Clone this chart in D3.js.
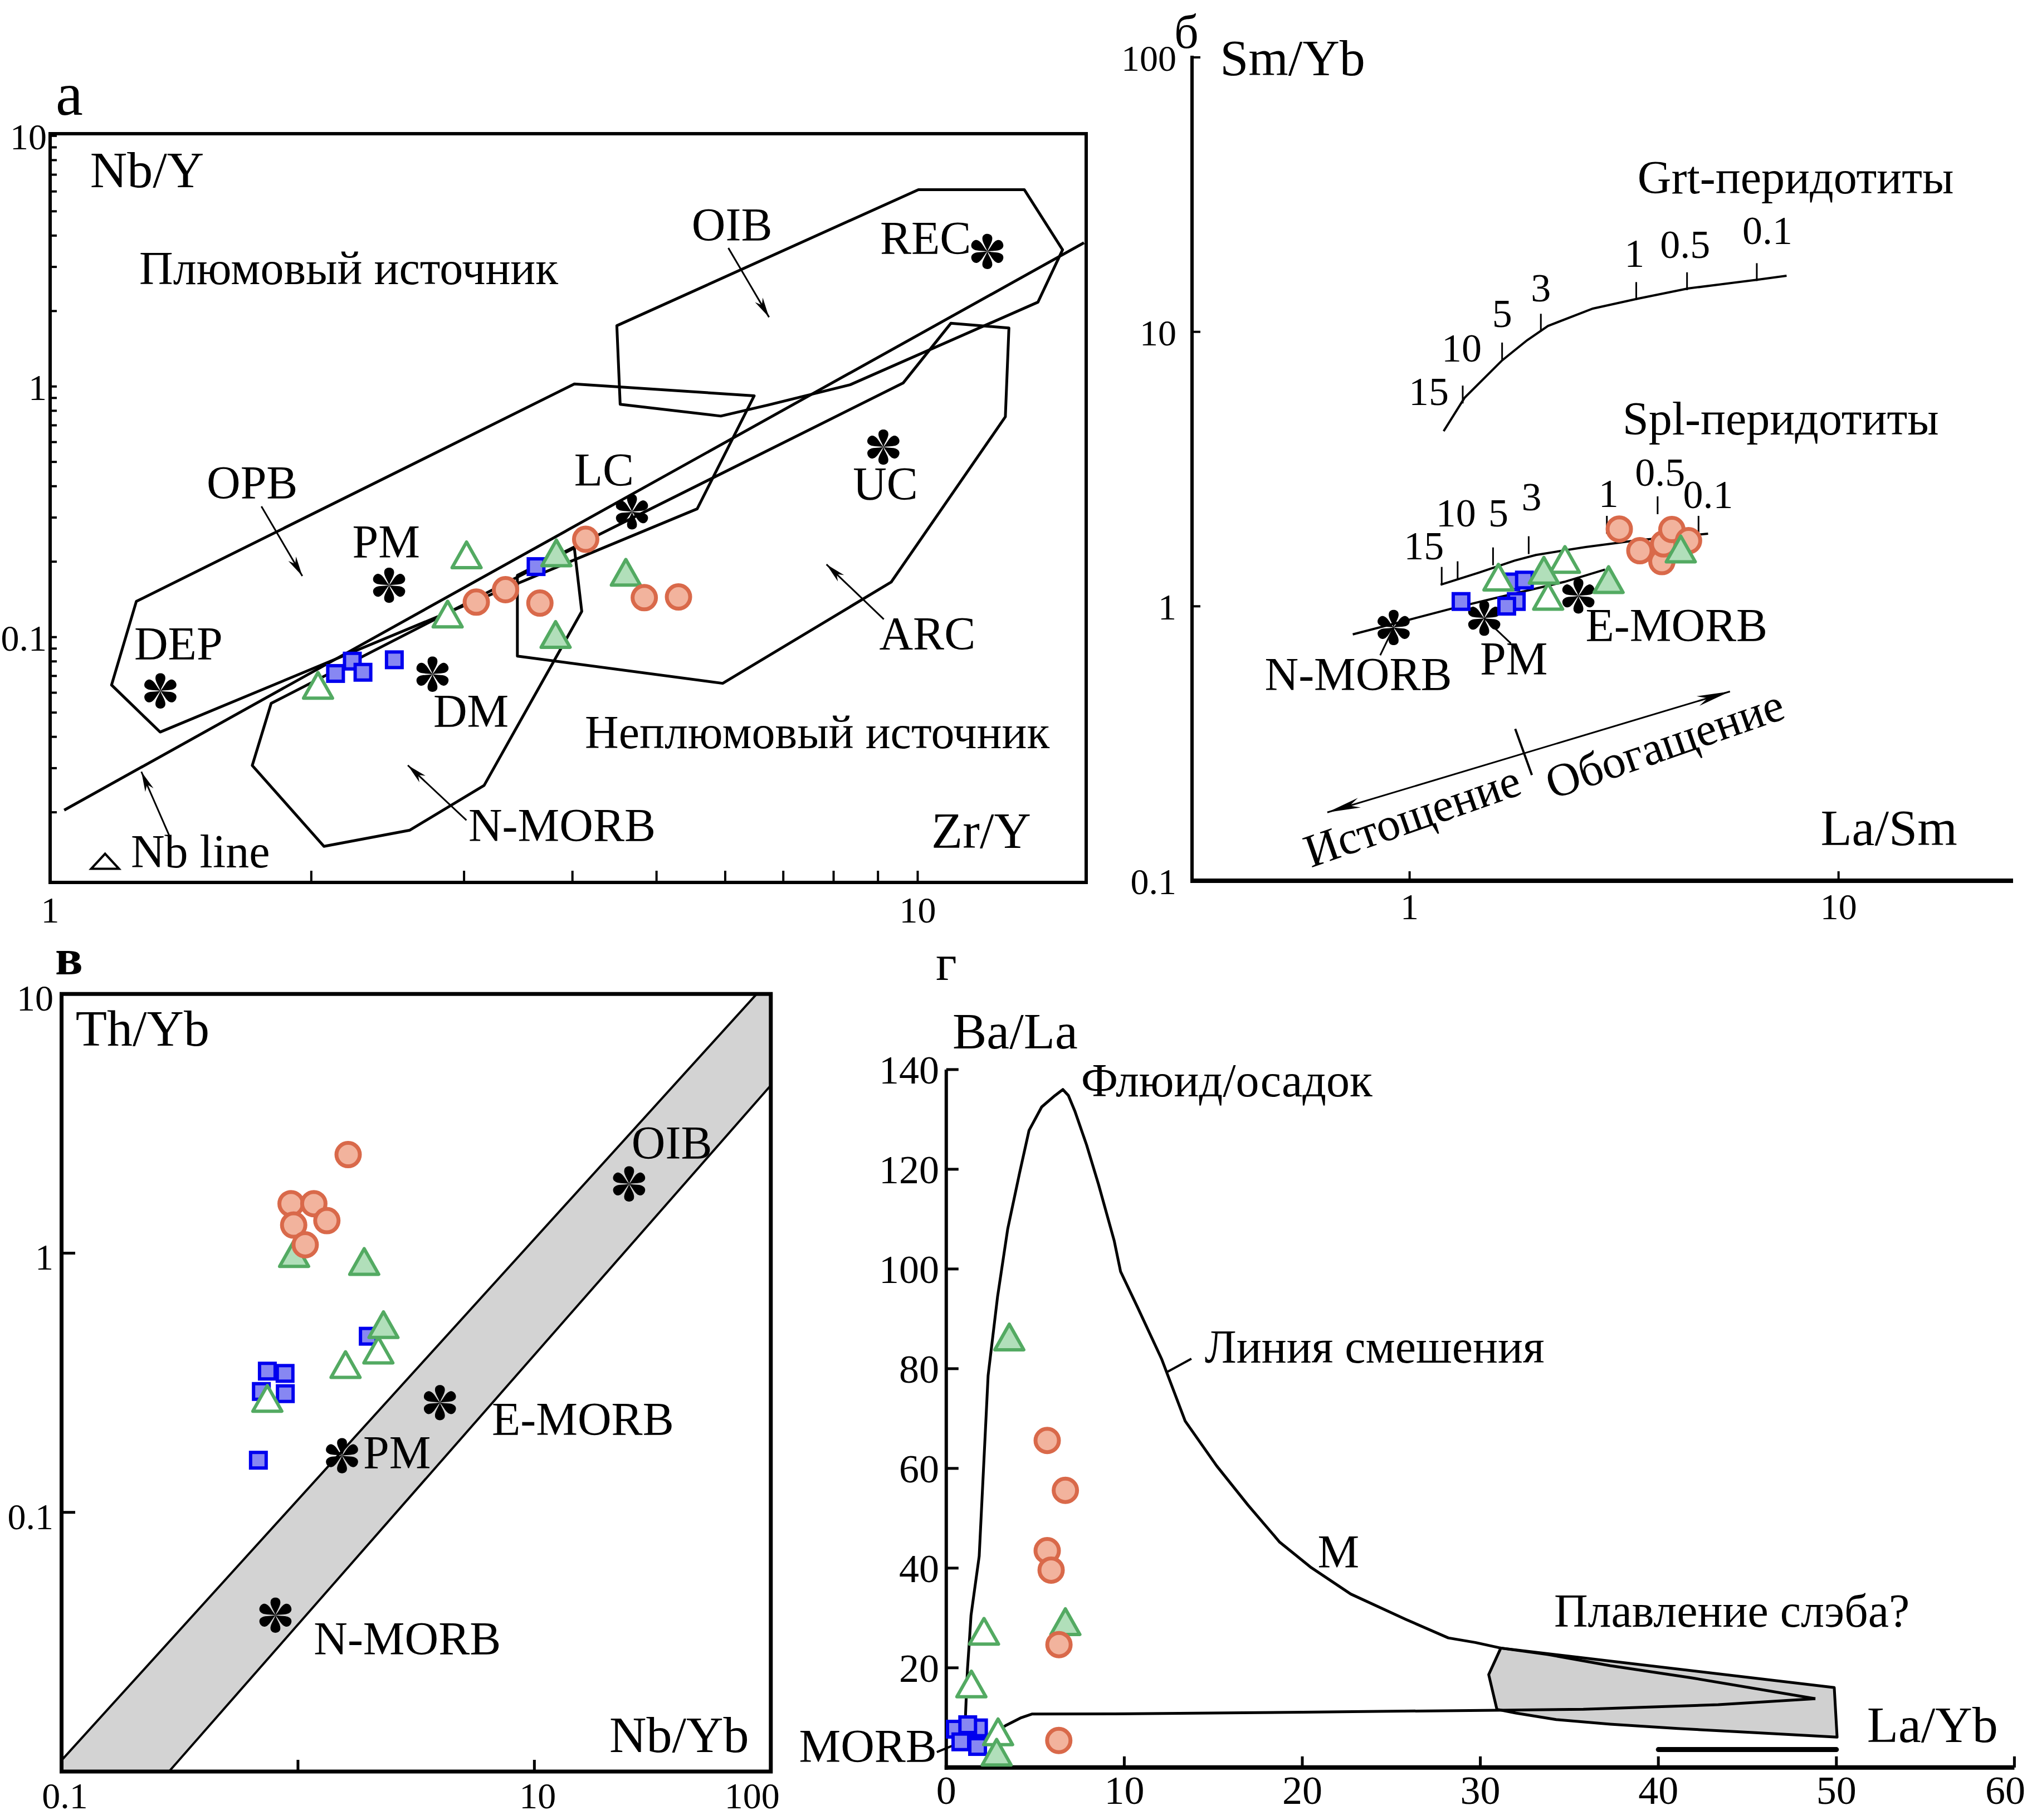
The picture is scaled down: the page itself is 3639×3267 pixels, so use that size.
<!DOCTYPE html>
<meta charset="utf-8">
<script src="https://d3js.org/d3.v7.min.js"></script>
<style>
  body { margin: 0; background: #fff; }
  text { font-family: "Liberation Serif", "Times New Roman", serif; fill: #000; }
</style>
<body>
<div id="chart"></div>
<script>

// ---------- panel а : Nb/Y vs Zr/Y ----------
var aSquares   = [[2.133,0.0716],[2.230,0.0802],[2.294,0.0724],[2.493,0.0812],[3.632,0.1911]];
var aTriOpen   = [[2.036,0.0617],[3.020,0.2047],[2.872,0.1188]];
var aTriFilled = [[3.833,0.2085],[3.825,0.0985],[4.609,0.1744]];
var aCircles   = [[3.099,0.1379],[3.349,0.1546],[3.669,0.1367],[4.143,0.2457],[4.840,0.1437],[5.30,0.1446]];
var aRefPoints = [["DEP",1.340,0.0610],["PM",2.459,0.161],["DM",2.759,0.0711],["LC",4.685,0.3161],["UC",9.13,0.573],["REC",12.03,3.458]];
var aFieldOIB  = [[4.50,1.748],[10.02,6.10],[13.27,6.10],[14.69,3.51],[13.76,2.17],[8.36,1.016],[6.73,0.844],[5.93,0.762],[4.54,0.849]];
var aFieldOPB  = [[1.177,0.0644],[1.257,0.1388],[4.02,1.023],[6.48,0.918],[5.57,0.325],[1.339,0.0418]];
var aFieldNMORB= [[1.710,0.03075],[1.798,0.0544],[4.02,0.2269],[4.10,0.1266],[3.164,0.0256],[2.598,0.01697],[2.068,0.01463]];
var aFieldARC  = [[10.92,1.787],[12.74,1.711],[12.62,0.757],[9.32,0.1657],[5.96,0.0654],[3.456,0.0840],[3.456,0.1765],[9.62,1.032]];
var aNbLine    = [[1.038,0.0204],[15.55,3.745]];
var aArrows    = [[[6.05,3.57],[6.74,1.89]],[[9.14,0.1178],[7.85,0.195]],[[1.752,0.3322],[1.953,0.1752]],
                  [[3.019,0.0186],[2.584,0.0308]],[[1.373,0.01604],[1.274,0.02904]]];
var aLabels    = [["Плюмовый источник",1.267,2.555],["Неплюмовый источник",4.134,0.03612],["OIB",5.490,3.819],
                  ["REC",9.05,3.375],["LC",4.018,0.4010],["UC",8.42,0.3542],["ARC",9.03,0.0892],["OPB",1.515,0.3575],
                  ["PM",2.230,0.2070],["DEP",1.250,0.0812],["DM",2.765,0.0438],["N-MORB",3.035,0.01531],["Nb line",1.239,0.01208]];
var aTitles    = [["Nb/Y",1.112,6.255],["Zr/Y",10.37,0.01445]];
var aLegendTri = [1.157,0.01272];
var aXLabels   = [1,10];
var aYLabels   = [0.1,1,10];

// ---------- panel б : Sm/Yb vs La/Sm ----------
var bSquares   = [[1.318,1.041],[1.722,1.227],[1.852,1.246],[1.773,1.041],[1.684,1.001]];
var bTriOpen   = [[1.611,1.232],[2.104,1.049],[2.302,1.429]];
var bTriFilled = [[2.056,1.305],[2.910,1.207],[4.287,1.561]];
var bCircles   = [[3.082,1.912],[3.442,1.594],[3.874,1.455],[3.911,1.688],[4.087,1.904],[4.470,1.734]];
var bRefPoints = [["N-MORB",0.918,0.837],["PM",1.493,0.905],["E-MORB",2.475,1.091]];
var bLeaders   = [[[0.918,0.837],[0.854,0.663]],[[1.493,0.905],[1.722,0.733]]];
var bGrtCurve  = [[1.2005,4.345],[1.343,5.75],[1.643,7.87],[1.879,9.32],[2.102,10.51],[2.673,12.15],[3.399,13.20],[4.462,14.39],[6.448,15.48],[7.567,16.01]];
var bGrtTicks  = [[1.330,5.485],[1.643,7.87],[2.023,10.02],[3.376,13.07],[4.434,14.19],[6.448,15.32]];
var bGrtTickLabels = [["15",1.108,5.424],["10",1.322,7.796],["5",1.643,10.42],["3",2.023,12.94],["1",3.343,17.26],["0.5",4.389,18.56],["0.1",6.827,20.85]];
var bSplCurve  = [[1.181,1.198],[1.451,1.326],[1.756,1.467],[1.969,1.538],[2.571,1.644],[3.422,1.742],[4.142,1.788],[4.964,1.839]];
var bSplTicks  = [[1.188,1.198],[1.294,1.256],[1.565,1.411],[1.895,1.550],[2.883,1.839],[3.786,2.166],[4.716,1.839]];
var bSplTickLabels = [["15",1.080,1.486],["10",1.282,1.956],["5",1.611,1.956],["3",1.924,2.233],["1",2.910,2.304],["0.5",3.837,2.755],["0.1",4.964,2.285]];
var bMantleArray = [[0.737,0.790],[1.010,0.898],[1.269,0.986],[1.596,1.074],[2.293,1.227],[2.855,1.361]];
var bLabels    = [["Grt-перидотиты",3.399,31.96],["Spl-перидотиты",3.137,4.221],["N-MORB",0.4594,0.4941],["PM",1.459,0.5626],["E-MORB",2.571,0.745]];
var bTitles    = [["Sm/Yb",0.3613,86.0],["La/Sm",9.08,0.1348]];
var bTrendLine = [[0.643,0.1775],[5.583,0.4894]];
var bTrendDivider = [[1.763,0.3575],[1.928,0.2428]];
var bTrendLabels  = [["Истощение",1.013,0.1733],["Обогащение",3.926,0.317]];
var bXLabels   = [1,10];
var bYLabels   = [0.1,1,10,100];

// ---------- panel в : Th/Yb vs Nb/Yb ----------
var cSquares   = [[0.742,0.3506],[0.882,0.3436],[0.700,0.2926],[0.884,0.287],[1.983,0.478],[0.680,0.1589]];
var cTriOpen   = [[2.188,0.407],[1.589,0.3576],[0.742,0.265]];
var cTriFilled = [[0.963,0.959],[1.906,0.894],[2.299,0.510]];
var cCircles   = [[1.630,2.40],[0.935,1.552],[1.167,1.552],[1.325,1.335],[0.959,1.283],[1.073,1.077]];
var cRefPoints = [["OIB",25.16,1.849],["PM",1.536,0.1654],["E-MORB",3.985,0.265],["N-MORB",0.803,0.0401]];
var cBandUpper = [[0.1,0.01105],[87.2,10]];
var cBandLower = [[0.2848,0.01],[100,4.44]];
var cLabels    = [["OIB",25.76,2.316],["PM",1.887,0.1474],["E-MORB",6.608,0.199],["N-MORB",1.166,0.02822]];
var cTitles    = [["Th/Yb",0.1147,6.304],["Nb/Yb",20.76,0.01187]];
var cXLabels   = [0.1,10,100];
var cYLabels   = [0.1,1,10];

// ---------- panel г : Ba/La vs La/Yb ----------
var dSquares   = [[0.507,7.69],[1.81,7.95],[1.205,8.58],[0.82,5.15],[1.76,4.22]];
var dTriOpen   = [[2.12,26.46],[1.41,15.9],[2.91,6.3]];
var dTriFilled = [[3.54,85.5],[6.69,28.4],[2.83,2.21]];
var dCircles   = [[5.67,65.6],[6.69,55.6],[5.67,43.5],[5.89,39.6],[6.33,24.65],[6.32,5.42]];
var dMixUpper  = [[1.39,5.9],[1.08,10.4],[1.13,14.8],[1.19,19.7],[1.29,24.9],[1.39,30.5],[1.85,42.4],[2.35,78.6],[2.88,94.4],
                  [3.45,108.0],[4.12,119.3],[4.65,127.8],[5.36,132.5],[6.11,134.8],[6.55,136.0],[6.86,134.8],[7.22,131.7],
                  [7.88,124.9],[8.55,117.0],[9.43,105.7],[9.79,99.5],[10.76,92.2],[12.09,82.0],[13.42,69.5],[15.19,60.5],
                  [16.96,52.6],[18.73,45.2],[20.50,40.1],[22.72,34.8],[25.82,29.7],[28.20,26.0],[29.72,25.08],[31.15,23.96],
                  [33.81,22.66],[37.30,20.42],[41.85,18.0],[48.82,13.8]];
var dMixLower  = [[1.39,5.9],[2.54,6.65],[3.38,8.5],[4.21,10.0],[4.83,10.74],[9.42,10.75],[20.0,11.1],[30.93,11.5],
                  [35.78,11.67],[43.36,12.6],[48.82,13.8]];
var dSlabField = [[31.15,23.96],[49.88,16.03],[50.04,6.09],[44.88,7.09],[41.09,7.83],[37.30,8.69],[34.26,9.62],
                  [31.99,10.93],[30.93,11.67],[30.47,18.64]];
var dBar       = [[40,3.6],[50,3.6]];
var dLeaders   = [[[12.44,79.4],[13.77,82.0]],[[-0.53,3.1],[1.39,5.9]]];
var dLabels    = [["Флюид/осадок",7.57,134.6],["Линия смешения",14.52,81.2],["М",20.86,40.1],["Плавление слэба?",34.14,28.3]];
var dTitles    = [["Ba/La",0.35,144.2],["La/Yb",51.72,5.08]];
var dMorb      = ["MORB",-0.53,1.13];
var dXLabels   = [0,10,20,30,40,50,60];
var dYLabels   = [20,40,60,80,100,120,140];

// ---------- styles ----------
var FONT = '"Liberation Serif", "Times New Roman", serif';
var SQ_FILL = "#8787f2", SQ_STROKE = "#0000ee";
var TR_FILL = "#b1dfba", TR_STROKE = "#53aa62";
var CI_FILL = "#f2b39d", CI_STROKE = "#d9694a";
var LABEL = 84, TITLE = 92, TICK = 66;

var W = 3639, H = 3267;
var svg = d3.select("#chart").append("svg")
  .attr("width", W).attr("height", H).attr("viewBox", "0 0 " + W + " " + H);
svg.append("rect").attr("width", W).attr("height", H).attr("fill", "#fff");

function text(g, s, x, y, size, anchor) {
  return g.append("text").attr("x", x).attr("y", y).attr("font-family", FONT)
    .attr("font-size", size).attr("text-anchor", anchor || "start").text(s);
}

function seg(g, x1, y1, x2, y2, w) {
  return g.append("line").attr("x1", x1).attr("y1", y1).attr("x2", x2).attr("y2", y2)
    .attr("stroke", "#000").attr("stroke-width", w);
}

// one teardrop arm of the reference-point asterisk
function petal(R) {
  return "M0,0 C" + (-0.1*R) + "," + (-0.3*R) + " " + (-0.32*R) + "," + (-0.55*R) + " " + (-0.26*R) + "," + (-0.78*R) +
         " C" + (-0.2*R) + "," + (-1.02*R) + " " + (0.2*R) + "," + (-1.02*R) + " " + (0.26*R) + "," + (-0.78*R) +
         " C" + (0.32*R) + "," + (-0.55*R) + " " + (0.1*R) + "," + (-0.3*R) + " 0,0Z";
}

function asterisks(g, sx, sy, pts) {
  pts.forEach(function(d) {
    var s = g.append("g").attr("transform", "translate(" + sx(d[1]) + "," + sy(d[2]) + ")");
    for (var k = 0; k < 6; k++)
      s.append("path").attr("d", petal(33)).attr("transform", "rotate(" + (k * 60) + ")").attr("fill", "#000");
  });
}

function triPath(w, h) {
  return "M0," + (-2*h/3) + "L" + w + "," + (h/3) + "L" + (-w) + "," + (h/3) + "Z";
}

function markers(g, sx, sy, kind, pts, filled) {
  var sel = g.append("g");
  if (kind == "square") {
    sel.selectAll("rect").data(pts).join("rect")
      .attr("x", function(d) { return sx(d[0]) - 14; })
      .attr("y", function(d) { return sy(d[1]) - 14; })
      .attr("width", 28).attr("height", 28)
      .attr("fill", SQ_FILL).attr("stroke", SQ_STROKE).attr("stroke-width", 6);
  } else if (kind == "tri") {
    sel.selectAll("path").data(pts).join("path")
      .attr("d", triPath(26, 46))
      .attr("transform", function(d) { return "translate(" + sx(d[0]) + "," + sy(d[1]) + ")"; })
      .attr("fill", filled ? TR_FILL : "#fff").attr("stroke", TR_STROKE)
      .attr("stroke-width", 6).attr("stroke-linejoin", "round");
  } else {
    sel.selectAll("circle").data(pts).join("circle")
      .attr("cx", function(d) { return sx(d[0]); })
      .attr("cy", function(d) { return sy(d[1]); })
      .attr("r", 21)
      .attr("fill", CI_FILL).attr("stroke", CI_STROKE).attr("stroke-width", 7);
  }
}

function arrowHead(g, x0, y0, x1, y1, len, half) {
  var a = Math.atan2(y1 - y0, x1 - x0), c = Math.cos(a), s = Math.sin(a);
  var bx = x1 - len * c, by = y1 - len * s;
  var nx = x1 - 0.7 * len * c, ny = y1 - 0.7 * len * s;
  g.append("path")
    .attr("d", "M" + x1 + "," + y1 + "L" + (bx - half * s) + "," + (by + half * c) +
               "L" + nx + "," + ny + "L" + (bx + half * s) + "," + (by - half * c) + "Z")
    .attr("fill", "#000");
}

function lineGen(sx, sy) {
  return d3.line().x(function(d) { return sx(d[0]); }).y(function(d) { return sy(d[1]); });
}

var fmt = d3.format("~g");

// =====================================================================
// panel а
// =====================================================================
(function() {
  var g = svg.append("g");
  var x = d3.scaleLog().domain([1, 15.64]).range([90, 1950]);
  var y = d3.scaleLog().domain([0.0105, 10.2]).range([1584, 240]);
  var line = lineGen(x, y);

  g.append("rect").attr("x", 90).attr("y", 240).attr("width", 1860).attr("height", 1344)
    .attr("fill", "none").attr("stroke", "#000").attr("stroke-width", 6);

  x.ticks().filter(function(v) { return v > 1; }).forEach(function(v) { seg(g, x(v), 1584, x(v), 1563, 4); });
  y.ticks().forEach(function(v) { seg(g, 90, y(v), 102, y(v), 4); });
  aXLabels.forEach(function(v) { text(g, fmt(v), x(v), 1656, TICK, "middle"); });
  aYLabels.forEach(function(v) { text(g, fmt(v), 84, y(v) + 24, TICK, "end"); });

  [aFieldOIB, aFieldOPB, aFieldNMORB, aFieldARC].forEach(function(f) {
    g.append("path").attr("d", line(f) + "Z").attr("fill", "none")
      .attr("stroke", "#000").attr("stroke-width", 5).attr("stroke-linejoin", "round");
  });
  g.append("path").attr("d", line(aNbLine)).attr("stroke", "#000").attr("stroke-width", 5);

  aArrows.forEach(function(a) {
    var x0 = x(a[0][0]), y0 = y(a[0][1]), x1 = x(a[1][0]), y1 = y(a[1][1]);
    seg(g, x0, y0, x1, y1, 3);
    arrowHead(g, x0, y0, x1, y1, 36, 8);
  });

  aLabels.forEach(function(d) { text(g, d[0], x(d[1]), y(d[2]), LABEL); });
  aTitles.forEach(function(d) { text(g, d[0], x(d[1]), y(d[2]), TITLE); });
  g.append("path").attr("d", "M-25,13L25,13L0,-14Z")
    .attr("transform", "translate(" + x(aLegendTri[0]) + "," + y(aLegendTri[1]) + ")")
    .attr("fill", "none").attr("stroke", "#000").attr("stroke-width", 4);

  asterisks(g, x, y, aRefPoints);
  markers(g, x, y, "square", aSquares);
  markers(g, x, y, "tri", aTriOpen, false);
  markers(g, x, y, "tri", aTriFilled, true);
  markers(g, x, y, "circle", aCircles);
  text(g, "а", 100, 206, 110);
})();

// =====================================================================
// panel б
// =====================================================================
(function() {
  var g = svg.append("g");
  var x = d3.scaleLog().domain([0.311, 25.52]).range([2140, 3614]);
  var y = d3.scaleLog().domain([0.1, 100]).range([1581, 103]);
  var line = lineGen(x, y);

  seg(g, 2140, 100, 2140, 1584, 6);
  seg(g, 2137, 1581, 3614, 1581, 8);
  [1, 10, 100].forEach(function(v) { seg(g, 2140, y(v), 2155, y(v), 4); });
  [1, 10].forEach(function(v) { seg(g, x(v), 1581, x(v), 1564, 4); });
  bXLabels.forEach(function(v) { text(g, fmt(v), x(v), 1650, TICK, "middle"); });
  bYLabels.forEach(function(v) { text(g, fmt(v), 2112, y(v) + 24, TICK, "end"); });

  [bGrtCurve, bSplCurve, bMantleArray].forEach(function(c) {
    g.append("path").attr("d", line(c)).attr("fill", "none").attr("stroke", "#000").attr("stroke-width", 4);
  });
  bGrtTicks.concat(bSplTicks).forEach(function(d) { seg(g, x(d[0]), y(d[1]), x(d[0]), y(d[1]) - 32, 3); });
  bGrtTickLabels.concat(bSplTickLabels).forEach(function(d) { text(g, d[0], x(d[1]), y(d[2]), 72, "middle"); });
  bLeaders.forEach(function(l) { seg(g, x(l[0][0]), y(l[0][1]), x(l[1][0]), y(l[1][1]), 3); });

  var x0 = x(bTrendLine[0][0]), y0 = y(bTrendLine[0][1]), x1 = x(bTrendLine[1][0]), y1 = y(bTrendLine[1][1]);
  seg(g, x0, y0, x1, y1, 3);
  arrowHead(g, x1, y1, x0, y0, 60, 9);
  arrowHead(g, x0, y0, x1, y1, 60, 9);
  seg(g, x(bTrendDivider[0][0]), y(bTrendDivider[0][1]), x(bTrendDivider[1][0]), y(bTrendDivider[1][1]), 4);
  var ang = Math.atan2(y1 - y0, x1 - x0) * 180 / Math.PI - 2.5;
  bTrendLabels.forEach(function(d) {
    text(g, d[0], 0, 0, LABEL, "middle").attr("dy", "0.35em")
      .attr("transform", "translate(" + x(d[1]) + "," + y(d[2]) + ") rotate(" + ang + ")");
  });

  bLabels.forEach(function(d) { text(g, d[0], x(d[1]), y(d[2]), LABEL); });
  bTitles.forEach(function(d) { text(g, d[0], x(d[1]), y(d[2]), TITLE); });

  asterisks(g, x, y, bRefPoints);
  markers(g, x, y, "square", bSquares);
  markers(g, x, y, "circle", bCircles);
  markers(g, x, y, "tri", bTriOpen, false);
  markers(g, x, y, "tri", bTriFilled, true);
  text(g, "б", 2108, 86, 86);
})();

// =====================================================================
// panel в
// =====================================================================
(function() {
  var g = svg.append("g");
  var x = d3.scaleLog().domain([0.1, 100]).range([110.5, 1383.8]);
  var y = d3.scaleLog().domain([0.01, 10]).range([3180, 1784.2]);
  var line = lineGen(x, y);

  var band = [cBandUpper[0], cBandUpper[1], [100, 10], cBandLower[1], cBandLower[0], [0.1, 0.01]];
  g.append("path").attr("d", line(band) + "Z").attr("fill", "#d3d3d3");
  [cBandUpper, cBandLower].forEach(function(l) {
    g.append("path").attr("d", line(l)).attr("stroke", "#000").attr("stroke-width", 4);
  });

  g.append("rect").attr("x", 110.5).attr("y", 1784.2).attr("width", 1273.3).attr("height", 1395.8)
    .attr("fill", "none").attr("stroke", "#000").attr("stroke-width", 7);
  [0.1, 1].forEach(function(v) { seg(g, 110.5, y(v), 135, y(v), 5); });
  [1, 10].forEach(function(v) { seg(g, x(v), 3180, x(v), 3159, 5); });
  cXLabels.forEach(function(v, i) {
    var last = i == cXLabels.length - 1;
    text(g, fmt(v), last ? x(v) + 16 : x(v) + 6, 3246, TICK, last ? "end" : "middle");
  });
  cYLabels.forEach(function(v) { text(g, fmt(v), 96, y(v) + 30, TICK, "end"); });

  cLabels.forEach(function(d) { text(g, d[0], x(d[1]), y(d[2]), LABEL); });
  cTitles.forEach(function(d) { text(g, d[0], x(d[1]), y(d[2]), TITLE); });

  asterisks(g, x, y, cRefPoints);
  markers(g, x, y, "square", cSquares);
  markers(g, x, y, "tri", cTriOpen, false);
  markers(g, x, y, "tri", cTriFilled, true);
  markers(g, x, y, "circle", cCircles);
  text(g, "в", 99, 1749, 92).attr("font-weight", "bold");
})();

// =====================================================================
// panel г
// =====================================================================
(function() {
  var g = svg.append("g");
  var x = d3.scaleLinear().domain([0, 60]).range([1698.8, 3616.4]);
  var y = d3.scaleLinear().domain([0, 140]).range([3172.8, 1919.9]);
  var line = lineGen(x, y);

  g.append("path").attr("d", line(dSlabField) + "Z").attr("fill", "#d0d0d0")
    .attr("stroke", "#000").attr("stroke-width", 5).attr("stroke-linejoin", "round");
  [dMixUpper, dMixLower].forEach(function(c) {
    g.append("path").attr("d", line(c)).attr("fill", "none").attr("stroke", "#000")
      .attr("stroke-width", 5).attr("stroke-linejoin", "round");
  });
  g.append("path").attr("d", line(dBar)).attr("stroke", "#000").attr("stroke-width", 9)
    .attr("stroke-linecap", "round");
  dLeaders.forEach(function(l) { seg(g, x(l[0][0]), y(l[0][1]), x(l[1][0]), y(l[1][1]), 4); });

  seg(g, x(0), y(0) + 4, x(0), y(140), 6);
  seg(g, x(0) - 3, y(0), x(60), y(0), 8);
  dYLabels.forEach(function(v) { seg(g, x(0), y(v), x(0) + 22, y(v), 5); });
  dXLabels.filter(function(v) { return v > 0; }).forEach(function(v) { seg(g, x(v), y(0), x(v), y(0) - 20, 5); });
  dXLabels.forEach(function(v, i) {
    var last = i == dXLabels.length - 1;
    text(g, fmt(v), last ? W - 3 : x(v), 3238, 72, last ? "end" : "middle");
  });
  dYLabels.forEach(function(v) { text(g, fmt(v), 1686, y(v) + 25, 72, "end"); });

  dLabels.forEach(function(d) { text(g, d[0], x(d[1]), y(d[2]), LABEL); });
  dTitles.forEach(function(d) { text(g, d[0], x(d[1]), y(d[2]), TITLE); });
  text(g, dMorb[0], x(dMorb[1]), y(dMorb[2]), LABEL, "end");

  markers(g, x, y, "square", dSquares);
  markers(g, x, y, "tri", dTriOpen, false);
  markers(g, x, y, "tri", dTriFilled, true);
  markers(g, x, y, "circle", dCircles);
  text(g, "г", 1680, 1759, 92);
})();

</script>
</body>
